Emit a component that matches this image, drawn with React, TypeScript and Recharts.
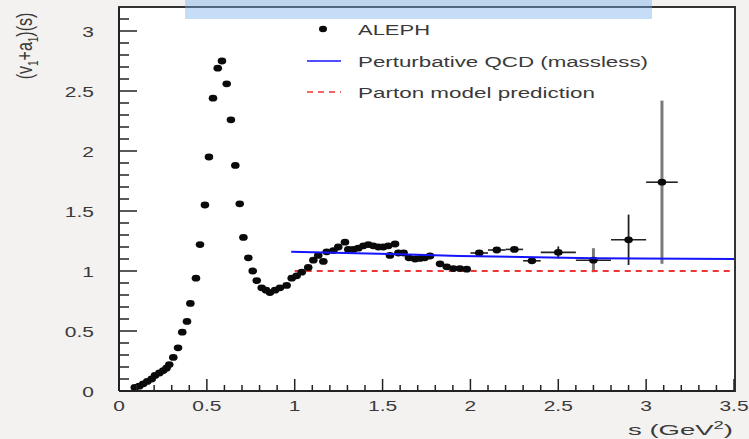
import React from 'react';
import { ComposedChart, Scatter, XAxis, YAxis, ErrorBar } from 'recharts';

// ALEPH data points (s in GeV^2, (v1+a1)(s))
const alephS = [
  0.09, 0.115, 0.138, 0.161, 0.186, 0.205, 0.23, 0.252, 0.27, 0.286,
  0.309, 0.336, 0.36, 0.387, 0.406, 0.438, 0.461, 0.489, 0.512, 0.535,
  0.562, 0.586, 0.613, 0.637, 0.662, 0.687, 0.708, 0.736, 0.761, 0.784,
  0.812, 0.837, 0.859, 0.888, 0.916, 0.954, 0.983, 1.011, 1.04, 1.077,
  1.106, 1.134, 1.163, 1.182, 1.22, 1.248, 1.286, 1.305, 1.334, 1.362,
  1.391, 1.419, 1.447, 1.476, 1.504, 1.533, 1.542, 1.571, 1.59, 1.62,
  1.65, 1.685, 1.713, 1.74, 1.77, 1.827, 1.865, 1.903, 1.94, 1.979,
];
const alephV = [
  0.03, 0.04, 0.06, 0.08, 0.1, 0.13, 0.15, 0.17, 0.19, 0.22,
  0.28, 0.36, 0.49, 0.58, 0.73, 0.94, 1.22, 1.55, 1.95, 2.44,
  2.69, 2.75, 2.56, 2.26, 1.88, 1.56, 1.28, 1.11, 1.0, 0.92,
  0.86, 0.84, 0.82, 0.84, 0.86, 0.88, 0.94, 0.96, 0.99, 1.03,
  1.09, 1.13, 1.08, 1.16, 1.17, 1.2, 1.24, 1.18, 1.18, 1.19,
  1.21, 1.22, 1.21, 1.2, 1.2, 1.21, 1.13, 1.225, 1.15, 1.15,
  1.11, 1.1, 1.105, 1.11, 1.125, 1.06, 1.035, 1.02, 1.02, 1.015,
];

// ALEPH points with visible error bars
const errS = [2.05, 2.15, 2.25, 2.35, 2.5, 2.7, 2.9, 3.09];
const errV = [1.15, 1.175, 1.18, 1.085, 1.155, 1.09, 1.26, 1.74];
const errDs = [0.05, 0.05, 0.05, 0.05, 0.1, 0.1, 0.1, 0.09];
const errDv = [0.02, 0.02, 0.02, 0.02, 0.05, 0.1, 0.21, 0.68];
const errTone = ['dark', 'dark', 'dark', 'dark', 'dark', 'gray', 'dark', 'gray'];

// Perturbative QCD (massless)
const qcdS = [0.98, 1.6, 1.94, 2.7, 3.5];
const qcdV = [1.16, 1.14, 1.125, 1.106, 1.1];

// Parton model prediction
const partonS = [1.0, 3.5];
const partonV = [1.0, 1.0];

const xTicks = [
  0, 0.1, 0.2, 0.3, 0.4, 0.5, 0.6, 0.7, 0.8, 0.9, 1, 1.1, 1.2, 1.3, 1.4, 1.5, 1.6, 1.7,
  1.8, 1.9, 2, 2.1, 2.2, 2.3, 2.4, 2.5, 2.6, 2.7, 2.8, 2.9, 3, 3.1, 3.2, 3.3, 3.4, 3.5,
];
const yTicks = [
  0, 0.1, 0.2, 0.3, 0.4, 0.5, 0.6, 0.7, 0.8, 0.9, 1, 1.1, 1.2, 1.3, 1.4, 1.5,
  1.6, 1.7, 1.8, 1.9, 2, 2.1, 2.2, 2.3, 2.4, 2.5, 2.6, 2.7, 2.8, 2.9, 3, 3.1,
];

const aleph = alephS.map((s, i) => ({ s, v: alephV[i] }));
const errPts = errS.map((s, i) => ({ s, v: errV[i], ds: errDs[i], dv: errDv[i], tone: errTone[i] }));
const errDark = errPts.filter((p) => p.tone === 'dark');
const errGray = errPts.filter((p) => p.tone === 'gray');
const qcd = qcdS.map((s, i) => ({ s, v: qcdV[i] }));
const parton = partonS.map((s, i) => ({ s, v: partonV[i] }));

const FONT = '"Liberation Sans", Arial, Helvetica, sans-serif';
const TXT = '#3a3a3a';

const isMajor = (v: number) => Math.abs(v * 2 - Math.round(v * 2)) < 1e-6;
const fmt = (v: number) => String(Math.round(v * 10) / 10);

const XTick = (props: any) => {
  const { x, y, payload } = props;
  const v = payload.value;
  const major = isMajor(v);
  return (
    <g>
      <line x1={x} x2={x} y1={y} y2={y - (major ? 12 : 6)} stroke="#222" strokeWidth={1.5} />
      {major && (
        <text
          transform={`translate(${x},${y + 19.5}) scale(1.4,1)`}
          textAnchor="middle"
          fontSize={15}
          fill={TXT}
          fontFamily={FONT}
        >
          {fmt(v)}
        </text>
      )}
    </g>
  );
};

const YTick = (props: any) => {
  const { x, y, payload } = props;
  const v = payload.value;
  const major = isMajor(v);
  return (
    <g>
      <line x1={x} x2={x + (major ? 18 : 10)} y1={y} y2={y} stroke="#222" strokeWidth={1.5} />
      {major && (
        <text
          transform={`translate(${x - 25},${y + 5.5}) scale(1.4,1)`}
          textAnchor="end"
          fontSize={15}
          fill={TXT}
          fontFamily={FONT}
        >
          {fmt(v)}
        </text>
      )}
    </g>
  );
};

const Dot = (props: any) => {
  const { cx, cy } = props;
  if (cx == null || cy == null) return <g />;
  return <ellipse cx={cx} cy={cy} rx={4.3} ry={3.4} fill="#0a0a0a" />;
};
const NoDot = () => <g />;

export default function App() {
  return (
    <div style={{ position: 'relative', width: 749, height: 439, background: '#f3f2f0', overflow: 'hidden' }}>
      <style>{`body{margin:0}`}</style>
      {/* white plot area with top/right frame */}
      <div
        style={{
          position: 'absolute',
          left: 118,
          top: 6,
          width: 618,
          height: 386,
          background: '#ffffff',
          boxSizing: 'border-box',
          borderTop: '2px solid #333',
          borderRight: '2px solid #333',
        }}
      />
      <div style={{ position: 'absolute', left: 0, top: 0 }}>
        <ComposedChart width={749} height={439} margin={{ top: 7, right: 15, bottom: 18, left: 59 }}>
          <XAxis
            type="number"
            dataKey="s"
            domain={[0, 3.5]}
            ticks={xTicks}
            interval={0}
            allowDataOverflow
            tickSize={0}
            tickMargin={0}
            tickLine={false}
            axisLine={{ stroke: '#222', strokeWidth: 2 }}
            height={30}
            tick={XTick}
          />
          <YAxis
            type="number"
            dataKey="v"
            domain={[0, 3.2]}
            ticks={yTicks}
            interval={0}
            allowDataOverflow
            tickSize={0}
            tickMargin={0}
            tickLine={false}
            axisLine={{ stroke: '#222', strokeWidth: 2 }}
            width={60}
            tick={YTick}
          />
          <Scatter
            data={parton}
            fill="#f03535"
            line={{ stroke: '#f03535', strokeWidth: 2, strokeDasharray: '6 5' }}
            shape={NoDot}
            isAnimationActive={false}
          />
          <Scatter data={aleph} fill="#0a0a0a" shape={Dot} isAnimationActive={false} />
          <Scatter data={errGray} fill="#0a0a0a" shape={Dot} isAnimationActive={false}>
            <ErrorBar dataKey="dv" direction="y" width={0} stroke="#7a7a7a" strokeWidth={3} />
            <ErrorBar dataKey="ds" direction="x" width={0} stroke="#222" strokeWidth={1.6} />
          </Scatter>
          <Scatter data={errDark} fill="#0a0a0a" shape={Dot} isAnimationActive={false}>
            <ErrorBar dataKey="dv" direction="y" width={0} stroke="#222" strokeWidth={1.8} />
            <ErrorBar dataKey="ds" direction="x" width={0} stroke="#222" strokeWidth={1.6} />
          </Scatter>
          <Scatter
            data={qcd}
            fill="#1414ff"
            line={{ stroke: '#1414ff', strokeWidth: 2 }}
            shape={NoDot}
            isAnimationActive={false}
          />
        </ComposedChart>
      </div>
      {/* legend, axis titles, top band */}
      <svg
        width={749}
        height={439}
        style={{ position: 'absolute', left: 0, top: 0, pointerEvents: 'none' }}
      >
        <rect x={185} y={0} width={467} height={19} fill="rgba(120,175,235,0.42)" />
        <ellipse cx={323} cy={29} rx={4} ry={3.3} fill="#0a0a0a" />
        <text x={358} y={34.5} fontSize={15.5} fill={TXT} fontFamily={FONT} textLength={72} lengthAdjust="spacingAndGlyphs">
          ALEPH
        </text>
        <line x1={307} x2={341} y1={61} y2={61} stroke="#1414ff" strokeWidth={1.6} />
        <text x={358} y={66.5} fontSize={15.5} fill={TXT} fontFamily={FONT} textLength={290} lengthAdjust="spacingAndGlyphs">
          Perturbative QCD (massless)
        </text>
        <line x1={307} x2={341} y1={92} y2={92} stroke="#f03535" strokeWidth={1.6} strokeDasharray="6 5" />
        <text x={358} y={97.5} fontSize={15.5} fill={TXT} fontFamily={FONT} textLength={237} lengthAdjust="spacingAndGlyphs">
          Parton model prediction
        </text>
        <text
          transform="translate(32,46) scale(1.4,1) rotate(-90)"
          textAnchor="middle"
          fontSize={16}
          fill={TXT}
          fontFamily={FONT}
        >
          (v<tspan fontSize={10} dy={4}>1</tspan>
          <tspan dy={-4}>+a</tspan>
          <tspan fontSize={10} dy={4}>1</tspan>
          <tspan dy={-4}>)(s)</tspan>
        </text>
        <text x={628} y={435} fontSize={15} fill={TXT} fontFamily={FONT} textLength={105} lengthAdjust="spacingAndGlyphs">
          s (GeV<tspan fontSize={10} dy={-6}>2</tspan>
          <tspan dy={6}>)</tspan>
        </text>
      </svg>
    </div>
  );
}
